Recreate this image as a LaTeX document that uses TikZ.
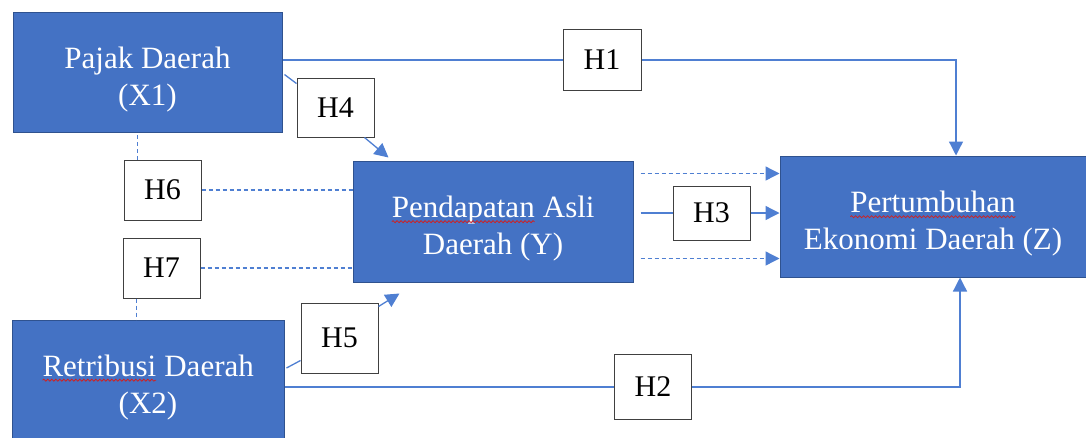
\documentclass[tikz,border=0pt]{standalone}
\usepackage{fontspec}
\setmainfont{Liberation Serif}
\usetikzlibrary{arrows.meta,decorations.pathmorphing,calc}
\definecolor{boxblue}{HTML}{4472C4}
\definecolor{boxedge}{HTML}{2F528F}
\definecolor{linkblue}{HTML}{4F7FD2}
\definecolor{spellred}{HTML}{D02020}
\newcommand{\wavyword}[1]{\tikz[baseline=(ww.base)]{\node[inner sep=0pt,outer sep=0pt,minimum width=0pt,minimum height=0pt,draw=none,fill=none,text=white] (ww) {#1};\draw[spellred,line width=0.8pt,decorate,decoration={snake,amplitude=1pt,segment length=4pt}] ([yshift=-4pt]ww.base west) -- ([yshift=-4pt]ww.base east);}}
\newcommand{\pushdown}{\rule{0pt}{36pt}}
\begin{document}
\begin{tikzpicture}[x=1pt,y=-1pt,
  bluebox/.style={draw=boxedge, line width=1pt, fill=boxblue, text=white, align=center, font=\fontsize{31}{37}\selectfont, inner sep=0pt},
  hbox/.style={draw=black!75, line width=1pt, fill=white, font=\fontsize{30}{34}\selectfont, inner sep=0pt},
  link/.style={draw=linkblue, line width=1.3pt},
  dlink/.style={link, dash pattern=on 4pt off 3pt},
  arr/.style={-{Triangle[length=14pt,width=14pt]}}]
\useasboundingbox (0,0) rectangle (1086,437);

% main boxes
\node[bluebox, minimum width=269pt, minimum height=120pt] (x1) at (147.5,72) {\pushdown Pajak Daerah\\(X1)};
\node[bluebox, minimum width=272pt, minimum height=120pt] (x2) at (148,380) {\pushdown\wavyword{Retribusi} Daerah\\(X2)};
\node[bluebox, minimum width=280pt, minimum height=121pt] (y) at (493,221.5) {\pushdown\wavyword{Pendapatan} Asli\\Daerah (Y)};
\node[bluebox, minimum width=306pt, minimum height=121pt] (z) at (933,216.5) {\pushdown\wavyword{Pertumbuhan}\\Ekonomi Daerah (Z)};

% hypothesis boxes
\node[hbox, minimum width=78pt, minimum height=61pt] (h1) at (602,60) {H1};
\node[hbox, minimum width=77pt, minimum height=65pt] (h2) at (653,387) {H2};
\node[hbox, minimum width=77pt, minimum height=54pt] (h3) at (711.5,213) {H3};
\node[hbox, minimum width=77pt, minimum height=59pt] (h4) at (335.5,107.5) {H4};
\node[hbox, minimum width=77pt, minimum height=70pt] (h5) at (339.5,338) {H5};
\node[hbox, minimum width=77pt, minimum height=60pt] (h6) at (162.5,190) {H6};
\node[hbox, minimum width=77pt, minimum height=60pt] (h7) at (161.5,268) {H7};

% helper coordinates
\coordinate (c1) at (956,0);
\coordinate (c2) at (960,0);
\coordinate (h6t) at ($(h6.north west)+(14,0)$);
\coordinate (h7b) at ($(h7.south west)+(14,0)$);

% H1 path
\draw[link] (x1.east |- h1.west) -- (h1.west);
\draw[link,arr] (h1.east) -| (c1 |- z.north);

% H2 path
\draw[link] (x2.east |- h2.west) -- (h2.west);
\draw[link,arr] (h2.east) -| (c2 |- z.south);

% H4 path
\draw[link] ($(x1.north east)+(2,63)$) -- ($(h4.north west)+(0,6)$);
\draw[link,arr] ($(h4.south east)+(-10,0)$) -- ($(y.north west)+(36,-3)$);

% H5 path
\draw[link] ($(x2.east)+(2,-12)$) -- ($(h5.south west)+(0,-13)$);
\draw[link,arr] ($(h5.north east)+(0,4)$) -- ($(y.south west)+(47,11)$);

% H6 / H7 (dashed)
\draw[dlink] (h6t) -- (h6t |- x1.south);
\draw[dlink] (h6.east) -- (h6.east -| y.west);
\draw[dlink] (h7b) -- (h7b |- x2.north);
\draw[dlink] (h7.east) -- (h7.east -| y.west);

% Y -> Z
\coordinate (ya) at ($(y.north east)+(7,13)$);
\coordinate (yb) at ($(y.south east)+(7,-24)$);
\coordinate (yc) at ($(y.east |- h3.west)+(7,0)$);
\draw[dlink,arr] (ya) -- (ya -| z.west);
\draw[dlink,arr] (yb) -- (yb -| z.west);
\draw[link] (yc) -- (h3.west);
\draw[link,arr] (h3.east) -- (h3.east -| z.west);
\end{tikzpicture}
\end{document}
